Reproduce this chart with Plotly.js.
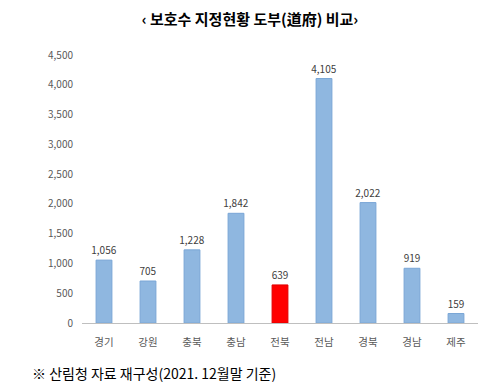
<!DOCTYPE html>
<html><head><meta charset="utf-8">
<script src="https://cdn.plot.ly/plotly-3.0.1.min.js"></script>
<style>body{margin:0;background:#fff}#c{width:500px;height:392px}</style>
</head><body><div id="c"></div>
<script>
const regions = ['경기','강원','충북','충남','전북','전남','경북','경남','제주'];
const counts = [1056, 705, 1228, 1842, 639, 4105, 2022, 919, 159];
const highlight = '전북';
const tickVals = [0,500,1000,1500,2000,2500,3000,3500,4000,4500];
const colors = regions.map(r => r === highlight ? '#ff0000' : '#8fb7e0');
const trace = {
  type:'bar', x:regions, y:counts,
  marker:{color:colors, line:{color:regions.map(r=>r===highlight?'#e00000':'#7aa6d6'), width:1}},
  width:0.36,
  text:counts.map(v=>v.toLocaleString('en-US')), textposition:'outside', constraintext:'none',
  textfont:{family:'Noto Sans CJK KR, sans-serif', size:10, color:'#404040'},
  cliponaxis:false, hoverinfo:'none'
};
const layout = {
  width:500, height:392,
  margin:{l:82, r:22, t:55, b:69},
  paper_bgcolor:'#fff', plot_bgcolor:'#fff',
  showlegend:false,
  title:{text:'<b>‹ 보호수 지정현황 도부(道府) 비교›</b>', x:0.5, xanchor:'center', y:0.95, yanchor:'middle',
    font:{family:'Noto Sans CJK KR, sans-serif', size:15, color:'#000'}},
  xaxis:{showline:true, linecolor:'#bfbfbf', linewidth:1, ticks:'', ticklabelstandoff:9, tickfont:{family:'Noto Sans CJK KR, sans-serif', size:10.5, color:'#595959'}, fixedrange:true},
  yaxis:{range:[0,4500], tickvals:tickVals, ticktext:tickVals.map(v=>v.toLocaleString('en-US')), showgrid:false, zeroline:false, showline:false, ticks:'', ticklabelstandoff:8,
    tickfont:{family:'Noto Sans CJK KR, sans-serif', size:10, color:'#595959'}},
  annotations:[{text:'※ 산림청 자료 재구성(2021. 12월말 기준)', xref:'paper', yref:'paper', x:-0.131, y:-0.14, xanchor:'left', yanchor:'top', showarrow:false,
    font:{family:'Noto Sans CJK KR, sans-serif', size:14, color:'#000'}}]
};
Plotly.newPlot('c',[trace],layout,{staticPlot:true});
</script></body></html>
